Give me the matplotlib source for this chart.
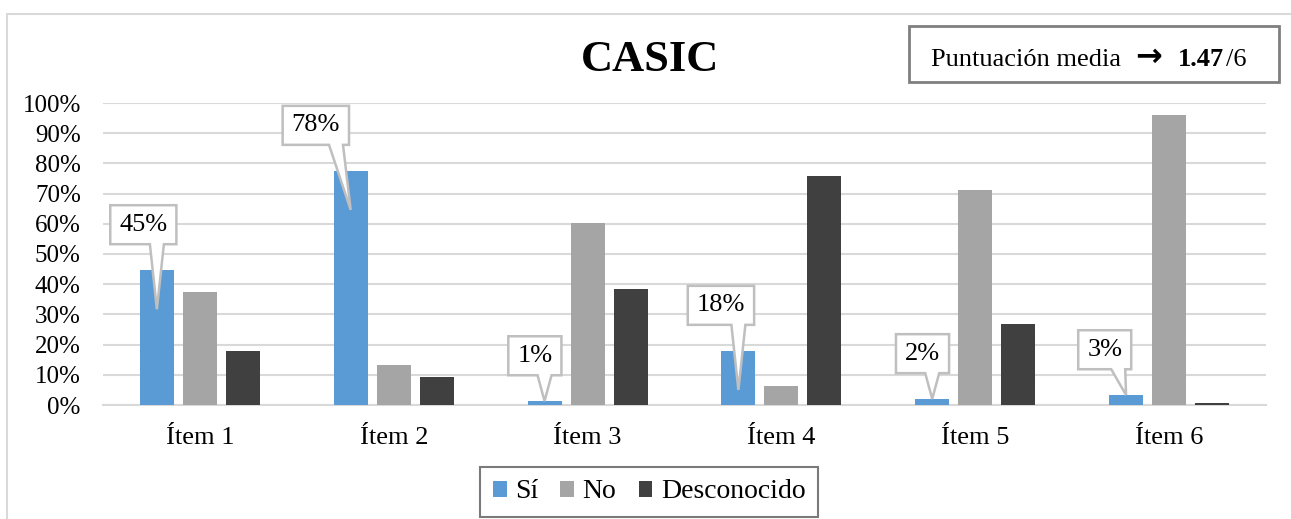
"""CASIC bar chart."""
import numpy as np
import matplotlib.pyplot as plt
from matplotlib.patches import Rectangle, Polygon
from matplotlib.transforms import IdentityTransform

plt.rcParams["font.family"] = ["Liberation Serif", "DejaVu Serif"]

items = ["Ítem 1", "Ítem 2", "Ítem 3", "Ítem 4", "Ítem 5", "Ítem 6"]
si = [44.7, 77.6, 1.3, 18.0, 2.0, 3.3]
no = [37.3, 13.2, 60.3, 6.2, 71.2, 96.0]
desconocido = [18.0, 9.2, 38.4, 75.8, 26.8, 0.7]
series_names = ["Sí", "No", "Desconocido"]
colors = ["#5b9bd5", "#a5a5a5", "#404040"]
title = "CASIC"
media = "1.47"
escala = "/6"

# callout box offsets (category units) for the "Sí" labels
label_dx = [-0.07, -0.18, -0.05, -0.09, -0.05, -0.11]

W, H = 1291, 519
fig = plt.figure(figsize=(W / 100, H / 100), dpi=100)
ident = IdentityTransform()
fig.patches.append(Rectangle((7, -20), W + 20, H + 20 - 14, transform=ident,
                             fill=False, ec="#d9d9d9", lw=1.5))
ax = fig.add_axes([103 / W, 1 - 405 / H, 1163 / W, 302 / H])

x = np.arange(len(items))
w = 0.175
off = 0.222
for i, (vals, name, c) in enumerate(zip([si, no, desconocido], series_names, colors)):
    ax.bar(x + (i - 1) * off, vals, w, color=c, label=name, zorder=3)

ax.set_ylim(0, 100)
ax.set_xlim(-0.5, len(items) - 0.5)
ax.set_yticks(np.arange(0, 101, 10))
ax.set_yticklabels([f"{v}%" for v in range(0, 101, 10)], fontsize=18)
ax.set_xticks(x)
ax.set_xticklabels(items, fontsize=19)
ax.tick_params(axis="y", length=0, pad=16)
ax.tick_params(axis="x", length=0, pad=16)
ax.grid(axis="y", color="#d9d9d9", lw=1.5, zorder=0)
for s in ["top", "right", "left"]:
    ax.spines[s].set_visible(False)
ax.spines["bottom"].set_color("#d9d9d9")
ax.spines["bottom"].set_linewidth(1.5)
ax.spines["bottom"].set_zorder(2)

labels = []
for k, v in enumerate(si):
    xb = x[k] - off
    t = ax.text(xb + label_dx[k], v + 15, f"{v:.0f}%", ha="center", va="center",
                fontsize=19, zorder=6)
    tip = v - 13 if v > 15 else v
    labels.append((t, xb, tip))

fig.text(650 / W, 1 - 60 / H, title, fontsize=32, fontweight="bold",
         ha="center", va="center")

leg = fig.legend(loc="center", bbox_to_anchor=(649 / W, 1 - 492 / H), ncol=3,
                 fontsize=20, frameon=True, fancybox=False, handlelength=0.5,
                 handleheight=0.5, handletextpad=0.3, columnspacing=0.8,
                 borderpad=0.45)
leg.get_frame().set_edgecolor("#595959")
leg.get_frame().set_linewidth(1.5)

# "Puntuación media -> 1.47/6" box, built piece by piece
fig.canvas.draw()
r = fig.canvas.get_renderer()
parts = [("Puntuación media", {}, 14),
         ("→", {"family": "DejaVu Sans", "fontweight": "bold", "fontsize": 23}, 16),
         (media, {"fontweight": "bold"}, 2),
         (escala, {}, 0)]
px = 931
for s, kw, gap in parts:
    opts = {"fontsize": 19}
    opts.update(kw)
    tt = fig.text(px, H - 66, s, transform=ident, va="baseline", ha="left", **opts)
    px = tt.get_window_extent(r).x1 + gap
fig.patches.append(Rectangle((909, H - 82), 370, 56, transform=ident, fill=False,
                             ec="#7f7f7f", lw=2))

# callouts for the "Sí" values
for t, xb, tip in labels:
    bb = t.get_window_extent(r)
    cy = (bb.y0 + bb.y1) / 2
    x0, x1 = bb.x0 - 9, bb.x1 + 9
    y0, y1 = cy - 19.5, cy + 19.5
    tx, ty = ax.transData.transform((xb, tip))
    bx = min(max(tx, x0 + 13), x1 - 13)
    pts = [(x0, y0), (bx - 7, y0), (tx, ty), (bx + 7, y0), (x1, y0), (x1, y1), (x0, y1)]
    ax.add_patch(Polygon(pts, closed=True, transform=ident, fc="white",
                         ec="#bfbfbf", lw=1.8, zorder=5, clip_on=False))

fig.savefig("out.png", dpi=100)
